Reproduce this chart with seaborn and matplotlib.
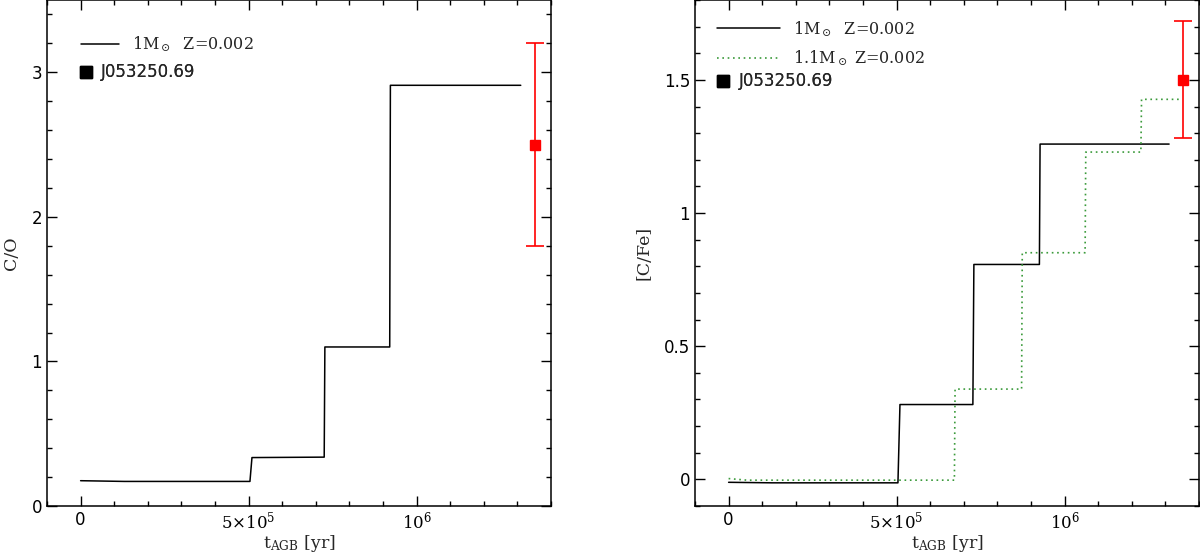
import matplotlib
matplotlib.use("Agg")
import matplotlib.pyplot as plt
from matplotlib.ticker import FixedLocator, MultipleLocator, FixedFormatter
from matplotlib.lines import Line2D
import seaborn as sns
import pandas as pd

# ---- data ----
co_t = [0, 1.3e5, 5.04e5, 5.1e5, 7.25e5, 7.27e5, 9.2e5, 9.22e5, 1.31e6]
co_val = [0.175, 0.17, 0.17, 0.335, 0.338, 1.10, 1.10, 2.91, 2.91]

cfe1_t = [0, 1.3e5, 5.04e5, 5.1e5, 7.27e5, 7.3e5, 9.25e5, 9.27e5, 1.311e6]
cfe1_val = [-0.011, -0.013, -0.013, 0.281, 0.281, 0.807, 0.807, 1.259, 1.259]

cfe2_t = [0, 0.55e5, 6.72e5, 6.74e5, 8.72e5, 8.74e5, 1.061e6, 1.063e6, 1.227e6, 1.229e6, 1.347e6]
cfe2_val = [0.003, -0.003, -0.003, 0.339, 0.339, 0.851, 0.851, 1.229, 1.229, 1.427, 1.427]

obs_t = 1.353e6
obs_co, obs_co_err = 2.5, 0.7
obs_cfe, obs_cfe_err = 1.5, 0.22

x_major = [0, 5e5, 1e6]
x_major_labels = ["0", r"$5{\times}10^5$", r"$10^6$"]
co_ticks = [0, 1, 2, 3]
co_tick_labels = ["0", "1", "2", "3"]
cfe_ticks = [0, 0.5, 1, 1.5]
cfe_tick_labels = ["0", "0.5", "1", "1.5"]

label_m1 = r"1M$_\odot$  Z=0.002"
label_m11 = r"1.1M$_\odot$ Z=0.002"
label_obs = "J053250.69"

sns.set_theme(style="ticks")
plt.rcParams["font.family"] = ["DejaVu Sans"]
plt.rcParams["mathtext.fontset"] = "dejavuserif"

fig = plt.figure(figsize=(12, 5.55), dpi=100)
ax1 = fig.add_axes([47/1200, 49/555, 504/1200, 506/555])
ax2 = fig.add_axes([695/1200, 49/555, 504/1200, 506/555])

green = "#3a9a3a"

df_co = pd.DataFrame({"t": co_t, "v": co_val})
sns.lineplot(data=df_co, x="t", y="v", ax=ax1, color="black", lw=1.1,
             estimator=None, sort=False)
ax1.errorbar([obs_t], [obs_co], yerr=[[obs_co_err], [obs_co_err]], fmt="s",
             color="red", ms=7, capsize=6.5, elinewidth=1.2, capthick=1.2)

df1 = pd.DataFrame({"t": cfe1_t, "v": cfe1_val})
df2 = pd.DataFrame({"t": cfe2_t, "v": cfe2_val})
sns.lineplot(data=df1, x="t", y="v", ax=ax2, color="black", lw=1.1,
             estimator=None, sort=False)
sns.lineplot(data=df2, x="t", y="v", ax=ax2, color=green, lw=1.2,
             linestyle=(0, (1, 2.2)), estimator=None, sort=False)
ax2.errorbar([obs_t], [obs_cfe], yerr=[[obs_cfe_err], [obs_cfe_err]], fmt="s",
             color="red", ms=7, capsize=6.5, elinewidth=1.2, capthick=1.2)

serif = {"family": "DejaVu Serif", "size": 12.5}

for ax in (ax1, ax2):
    ax.set_xlim(-1e5, 1.4e6)
    ax.xaxis.set_major_locator(FixedLocator(x_major))
    ax.xaxis.set_major_formatter(FixedFormatter(x_major_labels))
    ax.xaxis.set_minor_locator(MultipleLocator(1e5))
    ax.tick_params(which="both", direction="in", top=True, right=True,
                   labelsize=12, colors="black", width=1)
    ax.tick_params(which="major", length=7)
    ax.tick_params(which="minor", length=3.6)
    for s in ax.spines.values():
        s.set_color("black")
        s.set_linewidth(1.1)
    ax.set_xlabel(r"t$_{\mathrm{AGB}}$ [yr]", fontdict=serif, labelpad=0)

ax1.set_ylim(0, 3.5)
ax1.yaxis.set_major_locator(FixedLocator(co_ticks))
ax1.yaxis.set_major_formatter(FixedFormatter(co_tick_labels))
ax1.yaxis.set_minor_locator(MultipleLocator(0.2))
ax1.set_ylabel("C/O", fontdict=serif, labelpad=8)

ax2.set_ylim(-0.1, 1.8)
ax2.yaxis.set_major_locator(FixedLocator(cfe_ticks))
ax2.yaxis.set_major_formatter(FixedFormatter(cfe_tick_labels))
ax2.yaxis.set_minor_locator(MultipleLocator(0.1))
ax2.set_ylabel("[C/Fe]", fontdict=serif, labelpad=8)

# legends
def line_legend(ax, handles, labels, anchor, hl):
    leg = ax.legend(handles, labels, loc="upper left", bbox_to_anchor=anchor,
                    frameon=False, handlelength=hl, handletextpad=0.8,
                    labelspacing=0.6, prop={"family": "DejaVu Serif", "size": 11.5},
                    borderaxespad=0)
    ax.add_artist(leg)
    return leg

def marker_legend(ax, anchor):
    h = Line2D([], [], marker="s", color="black", ls="none", ms=8)
    leg = ax.legend([h], [label_obs], loc="upper left", bbox_to_anchor=anchor,
                    frameon=False, handlelength=0.8, handletextpad=0.5,
                    prop={"family": "DejaVu Sans", "size": 12}, borderaxespad=0)
    ax.add_artist(leg)

line_legend(ax1, [Line2D([], [], color="black", lw=1.1)], [label_m1], (0.055, 0.945), 2.4)
marker_legend(ax1, (0.05, 0.888))

line_legend(ax2, [Line2D([], [], color="black", lw=1.1),
                  Line2D([], [], color=green, lw=1.2, linestyle=(0, (1, 2.2)))],
            [label_m1, label_m11], (0.03, 0.975), 4.0)
marker_legend(ax2, (0.03, 0.87))

fig.savefig("out.png", dpi=100)
